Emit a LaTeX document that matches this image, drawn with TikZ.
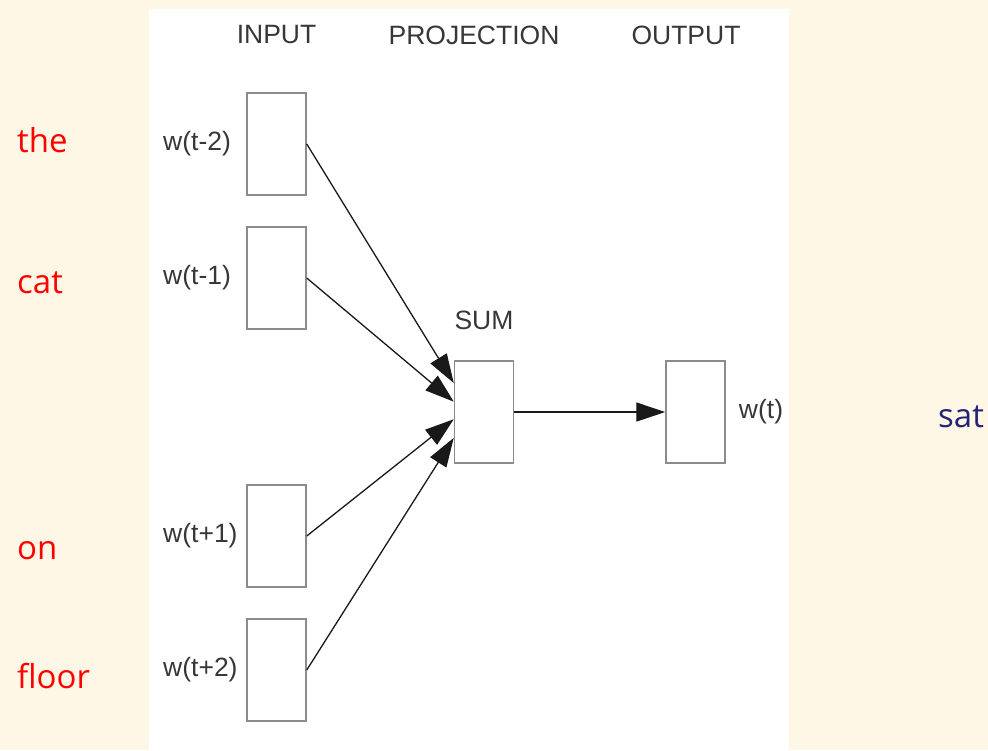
\documentclass[tikz,border=0pt]{standalone}
\usepackage{fontspec}
\setmainfont{Liberation Sans}
\newfontfamily\wordfont{Open Sans}
\usetikzlibrary{arrows.meta, positioning, calc}

\definecolor{paper}{RGB}{255,247,230}
\definecolor{boxline}{RGB}{140,140,140}
\definecolor{labelgray}{RGB}{55,55,55}
\definecolor{satblue}{RGB}{35,35,120}

\begin{document}
\begin{tikzpicture}[x=1pt, y=-1pt, >=Stealth,
		vec/.style={rectangle, draw=boxline, line width=1.5pt, fill=white, minimum width=59pt, minimum height=102pt, inner sep=0pt},
		lbl/.style={inner sep=0pt, text=labelgray, font=\fontsize{26.5}{30}\selectfont},
		feed/.style={-{Triangle[length=29pt, width=19pt]}, line width=1.3pt, color=black!90},
		ctx/.style={anchor=base west, inner sep=0pt, font=\wordfont\fontsize{33}{38}\selectfont}]

		% page and white panel
		\useasboundingbox[fill=paper] (0,0) rectangle (988,750);
		\fill[white] (149,9) rectangle (789,750);

		% column heads
		\node[lbl] (inhead) at (276.5,35) {INPUT};
		\node[lbl] (projhead) at (474,35) {PROJECTION};
		\node[lbl] (outhead) at (686,35) {OUTPUT};

		% context word vectors
		\node[vec] (in1) at (276.5,144) {};
		\node[vec] (in2) at (276.5,278) {};
		\node[vec] (in3) at (276.5,536) {};
		\node[vec] (in4) at (276.5,670) {};
		\node[lbl, anchor=west] (l1) at (163,144) {w(t-2)};
		\node[lbl, anchor=west] (l2) at (163,278) {w(t-1)};
		\node[lbl, anchor=west] (l3) at (163,536) {w(t+1)};
		\node[lbl, anchor=west] (l4) at (163,670) {w(t+2)};

		% projection and output
		\node[vec] (sum) at (484,412) {};
		\node[lbl, above=30pt of sum] (sumlbl) {SUM};
		\node[vec] (out) at (695.5,412) {};
		\node[lbl, right=13pt of out] (outlbl) {w(t)};

		\draw[feed] (in1.east) -- ($(sum.north west)!0.22!(sum.south west)$);
		\draw[feed] (in2.east) -- ($(sum.north west)!0.40!(sum.south west)$);
		\draw[feed] (in3.east) -- ($(sum.north west)!0.57!(sum.south west)$);
		\draw[feed] (in4.east) -- ($(sum.north west)!0.75!(sum.south west)$);
		\draw[feed] (sum.east) -- (out.west);

		% example sentence
		\node[ctx, text=red] (the) at (17,152) {the};
		\node[ctx, text=red] (cat) at (17,293) {cat};
		\node[ctx, text=red] (on) at (17,559) {on};
		\node[ctx, text=red] (floor) at (17,688) {floor};
		\node[ctx, text=satblue] (sat) at (938,427) {sat};
\end{tikzpicture}
\end{document}
